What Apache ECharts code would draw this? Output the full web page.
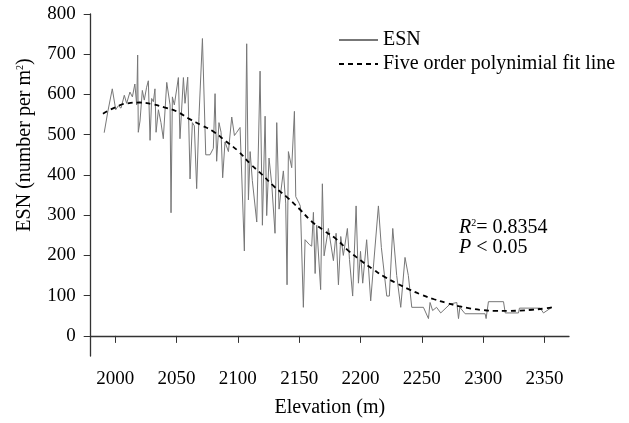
<!DOCTYPE html>
<html>
<head>
<meta charset="utf-8">
<script src="https://cdn.jsdelivr.net/npm/echarts@6/dist/echarts.min.js"></script>
<style>
    html, body { margin: 0; padding: 0; background: #fff; }
    #chart { width: 629px; height: 423px; }
</style>
</head>
<body>
<div id="chart"></div>
<script>
// 海拔 (m) 与 ESN 实测值
var elevation = [1991, 1994, 1997.6, 2000.4, 2002.5, 2004.7, 2007.4, 2009.3, 2012, 2014, 2016, 2017.5, 2018.3, 2018.8,
    2020.2, 2022.1, 2023.7, 2025.6, 2027, 2028.4, 2029.7, 2031.1, 2032.4, 2033.3, 2035.2, 2037.3, 2039.2, 2042, 2044.7,
    2045.5, 2046.6, 2048.2, 2051.5, 2052.8, 2055.6, 2056.9, 2059.1, 2061, 2062.9, 2064.5, 2066.4, 2068.3, 2071.1, 2073.8,
    2077.3, 2080, 2081.4, 2082.7, 2084.6, 2086.3, 2087.6, 2089.5, 2092.3, 2095, 2097.2, 2099.1, 2101.8, 2105.3, 2107.2,
    2108.6, 2110, 2111.8, 2115.4, 2118.1, 2120, 2122.2, 2123.5, 2125.4, 2127.6, 2130.3, 2131.7, 2133.6, 2135.2, 2137.1,
    2139, 2140.1, 2141.2, 2143.9, 2146.1, 2147.2, 2149.9, 2151, 2153.4, 2154.8, 2158.3, 2160.2, 2161.6, 2163, 2164.3,
    2167.5, 2168.9, 2170.3, 2173.8, 2177.9, 2180.1, 2182, 2183.9, 2186, 2189.3, 2191, 2193.6, 2196.4, 2198.3, 2200,
    2201.8, 2205, 2208.3, 2210.5, 2214.6, 2217, 2221.4, 2223.5, 2226.3, 2229.5, 2232.8, 2236.3, 2239, 2241.8, 2251.3,
    2255.4, 2256.7, 2258.8, 2262, 2265.4, 2273, 2278.5, 2279.9, 2281, 2285.3, 2301.6, 2302.4, 2304.3, 2316.6, 2318,
    2328.8, 2329.6, 2346.5, 2349.2, 2356];
var esn = [505, 558, 614, 562, 572, 566, 598, 578, 606, 594, 626, 574, 698, 506,
    534, 610, 586, 618, 634, 486, 590, 582, 614, 506, 562, 530, 490, 630, 574,
    306, 594, 574, 642, 490, 642, 578, 643, 390, 530, 522, 366, 546, 739, 450,
    450, 466, 602, 434, 530, 506, 393, 482, 458, 544, 498, 506, 518, 211, 726,
    338, 458, 386, 283, 658, 275, 546, 299, 442, 378, 255, 530, 315, 362, 410,
    330, 127, 458, 418, 558, 346, 330, 322, 71, 239, 227, 223, 307, 155, 275,
    115, 378, 199, 267, 187, 255, 127, 247, 200, 267, 190, 99, 323, 131, 210,
    131, 239, 87, 171, 323, 220, 99, 99, 267, 150, 71, 195, 150, 71, 71,
    43, 83, 63, 71, 57, 79, 83, 43, 71, 55, 55, 43, 85, 85, 57,
    57, 69, 69, 57, 71];

// 五次多项式拟合曲线
var fitElevation = [1990, 2000, 2010, 2020, 2030, 2040, 2050, 2060, 2070, 2080, 2090, 2100, 2110, 2120, 2130, 2140,
    2150, 2160, 2170, 2180, 2190, 2200, 2210, 2220, 2230, 2240, 2250, 2260, 2270, 2280, 2290, 2300, 2310, 2320, 2330,
    2340, 2350, 2356];
var fitValue = [552, 568, 578, 580, 576, 568, 558, 540, 524, 508, 484, 460, 428, 400, 370, 345,
    316, 285, 262, 241, 212, 188, 166, 146, 130, 115, 102, 91, 82, 74, 68, 64, 62, 62, 63,
    65, 68, 71];

var xTicks = [2000, 2050, 2100, 2150, 2200, 2250, 2300, 2350];
var yTicks = [0, 100, 200, 300, 400, 500, 600, 700, 800];

var serif = 'Liberation Serif';

function pairs(xs, ys) {
    return xs.map(function (x, i) { return [x, ys[i]]; });
}

var chart = echarts.init(document.getElementById('chart'));
chart.setOption({
    animation: false,
    backgroundColor: '#fff',
    grid: {
        left: 90.7,
        right: 60,
        top: 14,
        bottom: 55
    },
    legend: {
        orient: 'vertical',
        left: 338,
        top: 30,
        padding: 0,
        itemWidth: 39,
        itemHeight: 14,
        itemGap: 4,
        itemStyle: { opacity: 0 },
        textStyle: {
            fontFamily: serif,
            fontSize: 20,
            lineHeight: 20,
            color: '#000'
        },
        data: ['ESN', 'Five order polynimial fit line']
    },
    xAxis: {
        type: 'value',
        min: 1980,
        max: 2370,
        name: 'Elevation (m)',
        nameLocation: 'middle',
        nameGap: 42,
        nameTextStyle: { fontFamily: serif, fontSize: 20, color: '#000' },
        axisLine: { lineStyle: { color: '#333', width: 1.3 } },
        axisTick: { length: 7, customValues: xTicks, lineStyle: { color: '#333' } },
        axisLabel: {
            customValues: xTicks, margin: 14, fontFamily: serif, fontSize: 19, color: '#000',
            formatter: function (v) { return String(v); }
        },
        splitLine: { show: false }
    },
    yAxis: {
        type: 'value',
        min: -50,
        max: 800,
        axisLine: { show: true, lineStyle: { color: '#333', width: 1.3 } },
        axisTick: { show: true, length: 7, customValues: yTicks, lineStyle: { color: '#333' } },
        axisLabel: {
            customValues: yTicks, margin: 15, fontFamily: serif, fontSize: 19, color: '#000',
            formatter: function (v) { return String(v); }
        },
        splitLine: { show: false }
    },
    graphic: [
        {
            // y轴标题
            type: 'text',
            x: 25,
            y: 145,
            rotation: Math.PI / 2,
            style: {
                text: 'ESN (number per m{sup|2})',
                fontFamily: serif,
                fontSize: 20,
                fill: '#000',
                align: 'center',
                verticalAlign: 'middle',
                rich: {
                    sup: { fontFamily: serif, fontSize: 10, verticalAlign: 'top', padding: [0, 0, 10, 0] }
                }
            }
        },
        {
            type: 'text',
            left: 459,
            top: 218,
            style: {
                text: '{i|R}{sup|2}{n|= 0.8354}\n{i|P}{n| < 0.05}',
                fill: '#000',
                rich: {
                    i: { fontFamily: serif, fontStyle: 'italic', fontSize: 20, lineHeight: 20 },
                    n: { fontFamily: serif, fontSize: 20, lineHeight: 20 },
                    sup: { fontFamily: serif, fontSize: 10, lineHeight: 20, verticalAlign: 'top', padding: [0, 0, 9, 0] }
                }
            }
        }
    ],
    series: [
        {
            name: 'ESN',
            type: 'line',
            symbol: 'none',
            data: pairs(elevation, esn),
            lineStyle: { color: '#777', width: 1 },
            itemStyle: { color: '#777' },
            z: 2
        },
        {
            name: 'Five order polynimial fit line',
            type: 'line',
            symbol: 'none',
            smooth: true,
            data: pairs(fitElevation, fitValue),
            lineStyle: { color: '#000', width: 1.8, type: [5, 4] },
            itemStyle: { color: '#000' },
            z: 3
        }
    ]
});
</script>
</body>
</html>
